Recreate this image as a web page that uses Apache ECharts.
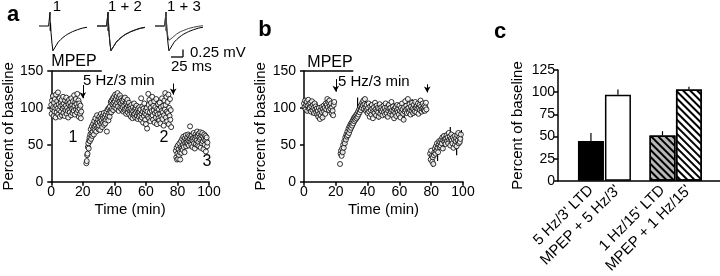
<!DOCTYPE html>
<html>
<head>
<meta charset="utf-8">
<script src="https://cdn.jsdelivr.net/npm/echarts@6/dist/echarts.min.js"></script>
<style>
  html, body { margin: 0; padding: 0; background: #fff; }
  #chart { width: 720px; height: 276px; }
</style>
</head>
<body>
<div id="chart"></div>
<script>
// ---- panel a : single experiment, percent of baseline (one sweep every 15 s)
const aStep = 0.25;
const aSeg1Start = 0;
const aSeg1 = [104, 92, 110, 98, 116, 101, 89, 107, 95, 112, 100, 87, 118, 103, 94, 109, 99, 121, 91, 105,
  97, 113, 88, 102, 108, 95, 111, 90, 104, 99, 115, 93, 106, 101, 89, 110, 97, 103, 114, 92,
  100, 108, 96, 87, 105, 111, 98, 94, 107, 102, 90, 113, 99, 104, 93, 109, 100, 96, 117, 103,
  91, 108, 112, 98, 105, 94, 119, 101, 97, 110, 88, 106, 99, 92, 103, 86, 95];
const aSeg2Start = 22.25;
const aSeg2 = [25, 28, 36, 38, 47, 52, 45, 56, 60, 55, 64, 71, 58, 66, 75, 62,
  68, 78, 72, 64, 82, 75, 70, 86, 77, 68, 80, 90, 73, 79, 84, 71,
  76, 88, 81, 70, 85, 92, 78, 83, 74, 89, 80, 86, 93, 77, 82, 88,
  79, 91, 84, 95, 68, 87, 98, 90, 83, 100, 93, 88,
  102, 96, 108, 94, 110, 99, 105, 113, 97, 107, 115, 101,
  109, 118, 104, 112, 99, 116, 107, 120, 102, 111, 96, 114, 108, 117, 100, 106, 113, 98, 110, 104,
  101, 109, 95, 112, 103, 97, 114, 99, 106, 92, 108, 100, 111, 94, 103, 98, 107, 91, 102, 96,
  99, 88, 104, 93, 97, 86, 101, 95, 90, 106, 92, 98, 87, 100, 94, 103, 89, 96, 85, 99, 93, 88, 101, 95,
  90, 98, 84, 113, 92, 87, 102, 95, 80, 99, 89, 106, 93, 84, 97, 78, 91, 100, 72, 95, 88, 119, 104, 86,
  111, 94, 82, 100, 107, 88, 96, 115, 90, 84, 103, 97, 109, 80, 93, 101, 87, 112, 95, 78, 99, 91, 105, 86,
  98, 83, 107, 92, 79, 101, 88, 96, 113, 85, 94, 103, 76, 90, 110, 98,
  120, 104, 87, 115, 95, 82, 108, 93, 118, 78, 100, 89, 112, 84, 97, 74];
const aSeg3Start = 79;
const aSeg3 = [42, 33, 46, 30, 38, 49, 31, 44,
  36, 52, 40, 30, 47, 55, 39, 45, 58,
  43, 50, 61, 47, 55, 40, 59, 52, 63, 48, 57, 53,
  60, 51, 64, 56, 49, 62, 58, 75, 54, 61, 50, 57,
  63, 47, 59, 55, 66, 52, 60, 45, 58, 64, 51, 61, 56, 68, 49, 62,
  54, 65, 48, 60, 57, 67, 46, 59, 63, 52, 66, 55,
  61, 44, 58, 64, 50, 56, 62, 41, 57, 60, 48, 53];

// ---- panel b : pooled, percent of baseline (3 points per min)
const bStep = 1 / 3;
const bSeg1Start = 0;
const bSeg1 = [106, 101, 110, 98, 104, 108, 96, 103, 111, 99, 105, 100, 107, 95, 102, 109, 97, 104, 100, 93,
  106, 98, 102, 94, 99, 91, 96, 88, 100, 92, 85, 97, 90, 101, 94, 87, 99, 103, 95, 100,
  92, 106, 98, 104, 112, 101, 108, 97, 110, 103, 99, 106, 93, 101, 96, 90, 104, 108];
const bSeg2Start = 68 / 3;
const bSeg2 = [24, 38, 42, 35, 45, 40, 50, 46, 55, 52, 60, 57, 64, 61,
  68, 63, 72, 66, 75, 70, 78, 73, 80, 76, 83, 79, 86, 82, 88, 84, 90, 86,
  92, 88, 95, 91, 98, 94, 102, 97, 104, 100, 107, 103, 110, 99, 105, 112, 101, 96, 104, 98,
  93, 100, 106, 95, 88, 102, 97, 91, 104, 99, 86, 95, 101, 93, 107, 98, 90, 103, 96, 100, 94, 88, 99, 105, 92, 97, 101, 95, 90,
  98, 103, 94, 100, 91, 106, 97, 93, 101, 88, 96, 104, 99, 92, 100, 95, 108, 97, 90, 102, 96, 86, 99, 93, 101, 89, 97, 104, 94,
  99, 91, 103, 96, 87, 100, 94, 106, 98, 92, 84, 101, 95, 109, 97, 103, 93, 99, 112, 100, 94, 105, 97, 91, 102, 96, 107, 99, 93,
  104, 98, 95, 108, 101, 94, 103, 99, 106, 92, 100, 104, 97, 110, 102, 95, 99, 106, 100, 97, 103, 96, 101, 107, 98];
const bSeg3Start = 238 / 3;
const bSeg3 = [38, 30, 42, 35, 27, 33, 24, 36, 40,
  45, 38, 48, 42, 52, 46, 40, 50, 55, 47, 53,
  49, 57, 52, 60, 45, 56, 62, 54, 58, 51, 59,
  63, 55, 60, 52, 66, 57, 61, 49, 58, 64, 56,
  52, 60, 46, 57, 62, 50, 55, 59,
  48, 63, 56, 66, 52, 60, 54, 58, 64];
// visible SEM bars in b : [time, low, high]
const bErr = [[2, 93, 112], [5, 90, 110], [8, 91, 108], [12, 84, 99], [17, 88, 108], [26, 52, 66], [30, 70, 86],
  [33.7, 84, 114], [38, 96, 114], [44, 86, 104], [47, 84, 102], [52, 85, 103], [57, 86, 106], [63, 82, 100],
  [68, 88, 112], [73, 90, 110], [81, 20, 38], [84, 28, 50], [88, 42, 62], [92, 55, 74], [96, 36, 58], [99, 52, 70]];

// ---- panel c : summary bars
const cNames = ["5 Hz/3' LTD", "MPEP + 5 Hz/3'", "1 Hz/15' LTD", "MPEP + 1 Hz/15'"];
const cSlots = [1.22, 2.22, 3.87, 4.85];
const cMeans = [45, 97, 51, 103];
const cSem = [9, 6, 5, 3];

// ---- EPSC traces (ms, mV)
const traceT = [0, 10, 20, 22, 23, 23.5, 24, 25, 27, 29, 31, 33, 36, 40, 45, 50, 55, 60, 65, 70, 80, 90, 100];
const trace1 = [0, 0, 0, 0, 0.45, -0.15, 0.1, -0.2, -0.55, -0.8, -0.84, -0.75, -0.62, -0.52, -0.44, -0.37, -0.31, -0.26, -0.22, -0.18, -0.12, -0.07, -0.04];
const trace2 = [0, 0, 0, 0, 0.43, -0.16, 0.08, -0.22, -0.56, -0.79, -0.82, -0.74, -0.63, -0.53, -0.45, -0.38, -0.32, -0.27, -0.23, -0.19, -0.13, -0.08, -0.05];
const trace3 = [0, 0, 0, 0, 0.45, -0.15, 0.1, -0.15, -0.35, -0.46, -0.48, -0.44, -0.38, -0.32, -0.26, -0.21, -0.17, -0.14, -0.11, -0.08, -0.04, -0.01, 0.01];

const FONT = "'Liberation Sans', Arial, sans-serif";

function sweep(start, step, vals) {
  return vals.map((v, i) => [start + i * step, v]);
}
function trace(vals) {
  return traceT.map((t, i) => [t, vals[i]]);
}

const chart = echarts.init(document.getElementById('chart'), null, { renderer: 'canvas' });

const axisLine = { show: true, lineStyle: { color: '#000', width: 1.5 } };
const tickStyle = { show: true, inside: false, length: 4, lineStyle: { color: '#000', width: 1.5 } };
const lbl = { color: '#000', fontFamily: FONT, fontSize: 14, margin: 3 };
const nameStyle = { color: '#000', fontFamily: FONT, fontSize: 15 };

function timeAxis(gi) {
  return {
    gridIndex: gi, type: 'value', min: 0, max: 100, interval: 20,
    axisLine: axisLine, axisTick: tickStyle, axisLabel: lbl, splitLine: { show: false },
    name: 'Time (min)', nameLocation: 'middle', nameGap: 21, nameTextStyle: nameStyle
  };
}
function pctAxis(gi, gap) {
  return {
    gridIndex: gi, type: 'value', min: 0, max: 150, interval: 50, offset: 5,
    axisLine: axisLine, axisTick: tickStyle, axisLabel: lbl, splitLine: { show: false },
    name: 'Percent of baseline', nameLocation: 'middle', nameGap: gap, nameTextStyle: nameStyle
  };
}
const hiddenX = gi => ({ gridIndex: gi, type: 'value', min: 0, max: 100, show: false });
const hiddenY = gi => ({ gridIndex: gi, type: 'value', min: -0.9, max: 0.5, show: false });

const circle = { color: '#fff', borderColor: '#000', borderWidth: 1 };
const noteLine = { color: '#000', width: 1, type: 'solid' };

function marks(mpepEnd, arrows) {
  const lines = [[{ coord: [0, 150], symbol: 'none', lineStyle: { color: '#000', width: 1.5, type: 'solid' } },
    { coord: [mpepEnd, 150], symbol: 'none' }]];
  arrows.forEach(a => lines.push([{ coord: [a[0], a[1]], symbol: 'none' }, { coord: [a[0], a[2]], symbol: 'arrow' }]));
  return { silent: true, animation: false, symbolSize: [5, 6], label: { show: false }, lineStyle: noteLine, data: lines };
}

function errBar(params, api) {
  const p1 = api.coord([api.value(0), api.value(1)]);
  const p2 = api.coord([api.value(0), api.value(2)]);
  return { type: 'line', shape: { x1: p1[0], y1: p1[1], x2: p2[0], y2: p2[1] }, style: { stroke: '#000', lineWidth: 1.2 } };
}

const hatch = { symbol: 'rect', symbolSize: 1, dashArrayX: [1, 0], dashArrayY: [1.5, 2.5], rotation: Math.PI / 4, color: '#000' };
const cFill = [
  { color: '#000', borderColor: '#000', borderWidth: 1.5 },
  { color: '#fff', borderColor: '#000', borderWidth: 1.5 },
  { color: '#b8b8b8', borderColor: '#000', borderWidth: 1.5, decal: hatch },
  { color: '#fff', borderColor: '#000', borderWidth: 1.5, decal: hatch }
];

const txt = (x, y, s, font, align) => ({
  type: 'text', x: x, y: y, silent: true,
  style: { text: s, fill: '#000', font: font, textAlign: align || 'center', textVerticalAlign: 'middle' }
});
const seg = (x1, y1, x2, y2) => ({ type: 'line', silent: true, shape: { x1, y1, x2, y2 }, style: { stroke: '#000', lineWidth: 1.3 } });
const F15 = '15px ' + FONT, F16 = '16px ' + FONT, BOLD = 'bold 22px ' + FONT;

chart.setOption({
  animation: false,
  textStyle: { fontFamily: FONT },
  grid: [
    { left: 48.5, top: 71, width: 160.5, height: 110.7 },
    { left: 304, top: 71, width: 159, height: 110.7 },
    { left: 558, top: 70, width: 162, height: 112.7 },
    { left: 39, top: 10.5, width: 48, height: 43.4 },
    { left: 97, top: 10.5, width: 48, height: 43.4 },
    { left: 155, top: 10.5, width: 48, height: 43.4 }
  ],
  xAxis: [
    timeAxis(0),
    timeAxis(1),
    {
      gridIndex: 2, type: 'value', min: 0, max: 6,
      axisLine: axisLine, axisTick: { show: false }, splitLine: { show: false },
      axisLabel: {
        color: '#000', fontFamily: FONT, fontSize: 15, rotate: 45, margin: 7,
        customValues: cSlots,
        formatter: v => { const i = cSlots.indexOf(v); return i < 0 ? '' : cNames[i]; }
      }
    },
    hiddenX(3), hiddenX(4), hiddenX(5)
  ],
  yAxis: [
    pctAxis(0, 26),
    pctAxis(1, 30),
    {
      gridIndex: 2, type: 'value', min: 0, max: 125, interval: 25,
      axisLine: axisLine, axisTick: tickStyle, axisLabel: lbl, splitLine: { show: false },
      name: 'Percent of baseline', nameLocation: 'middle', nameGap: 33, nameTextStyle: nameStyle
    },
    hiddenY(3), hiddenY(4), hiddenY(5)
  ],
  series: [
    {
      type: 'scatter', xAxisIndex: 0, yAxisIndex: 0, symbol: 'circle', symbolSize: 5, itemStyle: circle, silent: true,
      data: sweep(aSeg1Start, aStep, aSeg1).concat(sweep(aSeg2Start, aStep, aSeg2), sweep(aSeg3Start, aStep, aSeg3)),
      markLine: marks(32, [[20, 131, 113], [77.3, 133, 118]])
    },
    {
      type: 'custom', xAxisIndex: 1, yAxisIndex: 1, silent: true, renderItem: errBar, data: bErr, z: 1
    },
    {
      type: 'scatter', xAxisIndex: 1, yAxisIndex: 1, symbol: 'circle', symbolSize: 5, itemStyle: circle, silent: true, z: 2,
      data: sweep(bSeg1Start, bStep, bSeg1).concat(sweep(bSeg2Start, bStep, bSeg2), sweep(bSeg3Start, bStep, bSeg3)),
      markLine: marks(31, [[20, 139, 122], [77.5, 132, 121]])
    },
    {
      type: 'custom', xAxisIndex: 2, yAxisIndex: 2, silent: true, renderItem: errBar,
      data: cSlots.map((s, i) => [s, cMeans[i], cMeans[i] + cSem[i]]), z: 1
    },
    {
      type: 'bar', xAxisIndex: 2, yAxisIndex: 2, barWidth: 26, silent: true, z: 2,
      data: cSlots.map((s, i) => ({ value: [s, cMeans[i]], itemStyle: cFill[i] }))
    },
    { type: 'line', xAxisIndex: 3, yAxisIndex: 3, showSymbol: false, silent: true, lineStyle: { color: '#000', width: 1 }, data: trace(trace1) },
    { type: 'line', xAxisIndex: 4, yAxisIndex: 4, showSymbol: false, silent: true, lineStyle: { color: '#000', width: 1 }, data: trace(trace1) },
    { type: 'line', xAxisIndex: 4, yAxisIndex: 4, showSymbol: false, silent: true, lineStyle: { color: '#222', width: 1 }, data: trace(trace2) },
    { type: 'line', xAxisIndex: 5, yAxisIndex: 5, showSymbol: false, silent: true, lineStyle: { color: '#000', width: 1 }, data: trace(trace1) },
    { type: 'line', xAxisIndex: 5, yAxisIndex: 5, showSymbol: false, silent: true, lineStyle: { color: '#444', width: 1 }, data: trace(trace3) }
  ],
  graphic: [
    txt(13, 15, 'a', BOLD),
    txt(265, 30, 'b', BOLD),
    txt(500, 32, 'c', BOLD),
    txt(57, 7, '1', F15),
    txt(125, 7, '1 + 2', F15),
    txt(184, 7, '1 + 3', F15),
    seg(183, 49.5, 183, 57),
    seg(171, 57, 183, 57),
    txt(190, 53, '0.25 mV', F15, 'left'),
    txt(171, 67, '25 ms', F15, 'left'),
    txt(74, 62, 'MPEP', F16),
    txt(83, 81, '5 Hz/3 min', F15, 'left'),
    txt(73, 138, '1', F16),
    txt(164, 138, '2', F16),
    txt(207, 162, '3', F16),
    txt(330, 63, 'MPEP', F16),
    txt(338, 82, '5 Hz/3 min', F15, 'left')
  ]
});
</script>
</body>
</html>
